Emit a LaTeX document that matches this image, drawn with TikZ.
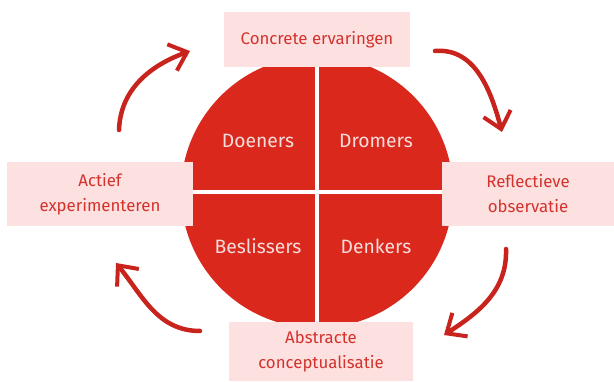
\documentclass[tikz,border=0pt]{standalone}
\usepackage{fontspec}
\setmainfont{Fira Sans}
\usetikzlibrary{arrows.meta}
\definecolor{kolbred}{HTML}{DA291C}
\definecolor{kolbpink}{HTML}{FDE1E1}
\definecolor{kolbtext}{HTML}{D4322C}
\definecolor{kolbarrow}{HTML}{C8231D}
\definecolor{kolblight}{HTML}{F6DCDC}
\begin{document}
\begin{tikzpicture}[x=1pt,y=1pt]
\tikzset{phase/.style={fill=kolbpink,inner sep=0pt,align=center,text=kolbtext,
  font=\fontsize{16.8}{25}\selectfont},
  style/.style={text=kolblight,font=\fontsize{19.3}{22}\selectfont},
  cycle/.style={draw=kolbarrow,line width=4.5pt,line cap=round,
  -{Straight Barb[length=16pt,width=28pt,line width=4pt]}}}
\useasboundingbox (0,0) rectangle (614,381);
% circle with the four learning styles
\fill [kolbred] (317,189) circle (136);
\draw [white,line width=4pt] (317,53) -- (317,325);
\draw [white,line width=4pt] (181,189) -- (453,189);
\node [style] (doe) at (258,240) {Doeners};
\node [style] (dro) at (376,240) {Dromers};
\node [style] (bes) at (258,135) {Beslissers};
\node [style] (den) at (376,135) {Denkers};
% the four phases
\node [phase,minimum width=186,minimum height=55] (ce) at (317,341.5) {Concrete ervaringen};
\node [phase,minimum width=172,minimum height=64] (ro) at (528,187) {Reflectieve\\observatie};
\node [phase,minimum width=184,minimum height=59] (ac) at (321,29.5) {Abstracte\\conceptualisatie};
\node [phase,minimum width=186,minimum height=64] (ae) at (100,187) {Actief\\experimenteren};
% arrows of the cycle
\coordinate (a1) at (119,251); \coordinate (b1) at (190,330);
\coordinate (a2) at (435,330); \coordinate (b2) at (502,249);
\coordinate (a3) at (506,132); \coordinate (b3) at (444,46);
\coordinate (a4) at (200,50); \coordinate (b4) at (116,118);
\draw [cycle] (a1) to[out=88,in=200] (b1);
\draw [cycle] (a2) to[out=5,in=105] (b2);
\draw [cycle] (a3) to[out=-88,in=33] (b3);
\draw [cycle] (a4) to[out=180,in=-51] (b4);
\end{tikzpicture}
\end{document}
